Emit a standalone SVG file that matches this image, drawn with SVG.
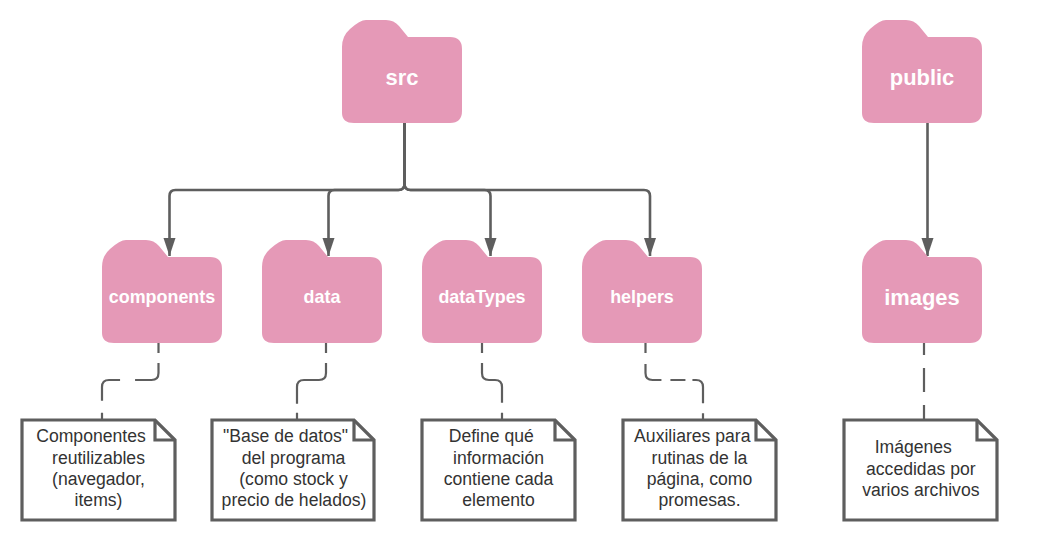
<svg xmlns="http://www.w3.org/2000/svg" xmlns:xlink="http://www.w3.org/1999/xlink" width="1061" height="541" viewBox="0 0 1061 541">
<style>
.folder{fill:#e599b7}
.ft{font-family:"Liberation Sans",Arial,sans-serif;font-weight:700;fill:#fff;text-anchor:middle}
.big{font-size:21.9px}
.small{font-size:17.9px}
.note{fill:#fff;stroke:#5e5e5e;stroke-width:3.2;stroke-linejoin:miter}
.fold{fill:none;stroke:#5e5e5e;stroke-width:3.2}
.nt{font-family:"Liberation Sans",Arial,sans-serif;font-size:17.6px;fill:#333;text-anchor:middle}
.c{fill:none;stroke:#5e5e5e;stroke-width:2.6}
.d{fill:none;stroke:#5e5e5e;stroke-width:2.2}
</style>
<defs>
<path id="f" d="M342 113V47Q342 36 350 29Q360 20 366 20H386Q394 20 399 26L408 37H450Q462 37 462 49V111Q462 123 450 123H354Q342 123 342 113Z"/>
<marker id="a" markerUnits="userSpaceOnUse" markerWidth="19" markerHeight="13" refX="18" refY="6.5" orient="auto" viewBox="0 0 19 13"><path d="M0 .5V12.5L18 6.500Z" fill="#5e5e5e"/></marker>
</defs>
<g id="connectors">
<path class="c" marker-end="url(#a)" d="M404.500 123V184Q404.500 190 398.500 190H175.500Q169.500 190 169.500 196V256"/>
<path class="c" marker-end="url(#a)" d="M404.500 123V184Q404.500 190 398.500 190H334.500Q328.500 190 328.500 196V256"/>
<path class="c" marker-end="url(#a)" d="M404.500 123V184Q404.500 190 410.500 190H484.500Q490.500 190 490.500 196V256"/>
<path class="c" marker-end="url(#a)" d="M404.500 123V184Q404.500 190 410.500 190H644Q650 190 650 196V256"/>
<path class="c" marker-end="url(#a)" d="M927.500 123V256"/>
<path class="d" stroke-dasharray="10 10 37.500 15 36 12 14" d="M158.500 343V373Q158.500 380 151.500 380H109Q102 380 102 387V420"/>
<path class="d" stroke-dasharray="10 10 64 9 14" d="M326 343V373Q326 380 319 380H304Q297 380 297 387V420"/>
<path class="d" stroke-dasharray="10 10 54 10 14" d="M482 343V373Q482 380 489 380H495Q502 380 502 387V420"/>
<path class="d" stroke-dasharray="10 11 29 9 15 7 31 10 14" d="M645.500 343V373Q645.500 380 652.500 380H696Q703 380 703 387V420"/>
<path class="d" stroke-dasharray="12 13 24 13 15" d="M924 343V420"/>
</g>
<g id="src"><use xlink:href="#f" class="folder"/><text class="ft big" x="402" y="85">src</text></g>
<g id="public"><use xlink:href="#f" class="folder" x="520"/><text class="ft big" x="922" y="85">public</text></g>
<g id="components"><use xlink:href="#f" class="folder" x="-240" y="220"/><text class="ft small" x="162" y="303">components</text></g>
<g id="data"><use xlink:href="#f" class="folder" x="-80" y="220"/><text class="ft small" x="322" y="303">data</text></g>
<g id="dataTypes"><use xlink:href="#f" class="folder" x="80" y="220"/><text class="ft small" x="482" y="303">dataTypes</text></g>
<g id="helpers"><use xlink:href="#f" class="folder" x="240" y="220"/><text class="ft small" x="642" y="303">helpers</text></g>
<g id="images"><use xlink:href="#f" class="folder" x="520" y="220"/><text class="ft big" x="922" y="305">images</text></g>
<g id="note-components">
<path class="note" d="M22 420H155L175 440V520H22Z"/><path class="fold" d="M155 420V440H175"/>
<text class="nt" x="91" y="442">Componentes</text><text class="nt" x="98.500" y="463.500">reutilizables</text><text class="nt" x="98.500" y="485">(navegador,</text><text class="nt" x="98.500" y="506">items)</text>
</g>
<g id="note-data">
<path class="note" d="M212 420H354L374 440V520H212Z"/><path class="fold" d="M354 420V440H374"/>
<text class="nt" x="285.500" y="442">"Base de datos"</text><text class="nt" x="293.500" y="463.500">del programa</text><text class="nt" x="293.500" y="485">(como stock y</text><text class="nt" x="294" y="506">precio de helados)</text>
</g>
<g id="note-dataTypes">
<path class="note" d="M422 420H555L575 440V520H422Z"/><path class="fold" d="M555 420V440H575"/>
<text class="nt" x="491.300" y="442">Define qué</text><text class="nt" x="498.500" y="463.500">información</text><text class="nt" x="498.500" y="485">contiene cada</text><text class="nt" x="498.500" y="506">elemento</text>
</g>
<g id="note-helpers">
<path class="note" d="M623 420H756L776 440V520H623Z"/><path class="fold" d="M756 420V440H776"/>
<text class="nt" x="692.300" y="442">Auxiliares para</text><text class="nt" x="699.500" y="463.500">rutinas de la</text><text class="nt" x="699.500" y="485">página, como</text><text class="nt" x="699.500" y="506">promesas.</text>
</g>
<g id="note-images">
<path class="note" d="M844 420H977L997 440V520H844Z"/><path class="fold" d="M977 420V440H997"/>
<text class="nt" x="913.300" y="453">Imágenes</text><text class="nt" x="920.800" y="474.500">accedidas por</text><text class="nt" x="920.800" y="495.500">varios archivos</text>
</g>
</svg>
